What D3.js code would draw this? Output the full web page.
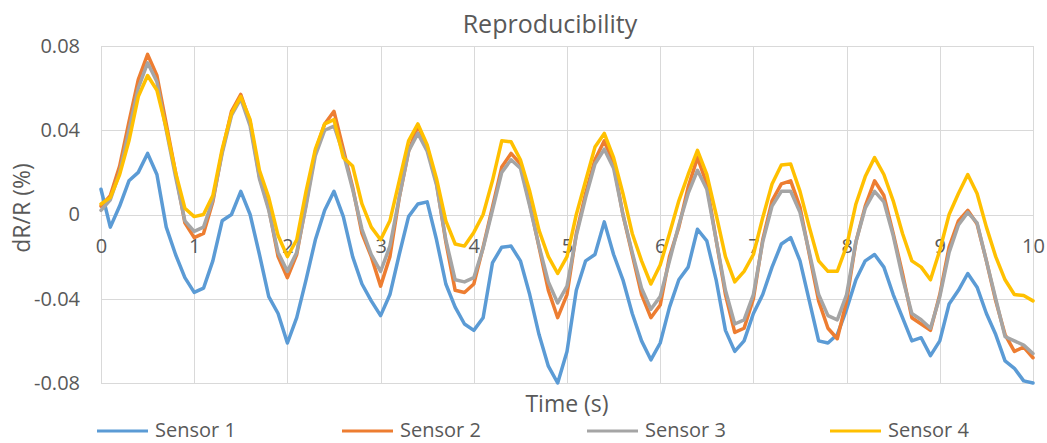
<!DOCTYPE html>
<html>
<head>
<meta charset="utf-8">
<script src="https://cdn.jsdelivr.net/npm/d3@7"></script>
<style>
  body { margin: 0; background: #fff; }
  text { font-family: "Open Sans", sans-serif; fill: #595959; }
</style>
</head>
<body>
<div id="my_dataviz"></div>
<script>
// Time samples (s)
var time = [0,0.1,0.2,0.3,0.4,0.5,0.6,0.7,0.8,0.9,
  1,1.1,1.2,1.3,1.4,1.5,1.6,1.7,1.8,1.9,
  2,2.1,2.2,2.3,2.4,2.5,2.6,2.7,2.8,2.9,
  3,3.1,3.2,3.3,3.4,3.5,3.6,3.7,3.8,3.9,
  4,4.1,4.2,4.3,4.4,4.5,4.6,4.7,4.8,4.9,
  5,5.1,5.2,5.3,5.4,5.5,5.6,5.7,5.8,5.9,
  6,6.1,6.2,6.3,6.4,6.5,6.6,6.7,6.8,6.9,
  7,7.1,7.2,7.3,7.4,7.5,7.6,7.7,7.8,7.9,
  8,8.1,8.2,8.3,8.4,8.5,8.6,8.7,8.8,8.9,
  9,9.1,9.2,9.3,9.4,9.5,9.6,9.7,9.8,9.9,
  10];

// dR/R values
var sensor1 = [0.012,-0.006,0.004,0.016,0.020,0.029,0.019,-0.006,-0.019,-0.030,
  -0.037,-0.035,-0.022,-0.003,0.000,0.011,0.000,-0.019,-0.039,-0.047,
  -0.061,-0.049,-0.031,-0.012,0.002,0.011,-0.001,-0.020,-0.033,-0.041,
  -0.048,-0.038,-0.019,-0.001,0.005,0.006,-0.012,-0.033,-0.044,-0.052,
  -0.055,-0.049,-0.023,-0.0155,-0.015,-0.022,-0.038,-0.057,-0.072,-0.080,
  -0.065,-0.036,-0.022,-0.019,-0.0035,-0.019,-0.031,-0.047,-0.060,-0.069,
  -0.061,-0.044,-0.031,-0.025,-0.007,-0.0125,-0.031,-0.055,-0.065,-0.060,
  -0.047,-0.038,-0.025,-0.014,-0.011,-0.022,-0.041,-0.060,-0.061,-0.057,
  -0.045,-0.031,-0.022,-0.019,-0.025,-0.038,-0.049,-0.060,-0.0585,-0.067,
  -0.060,-0.0425,-0.036,-0.028,-0.0345,-0.047,-0.057,-0.0695,-0.073,-0.079,
  -0.080];

var sensor2 = [0.004,0.009,0.023,0.044,0.064,0.076,0.066,0.043,0.020,-0.004,
  -0.011,-0.009,0.006,0.030,0.049,0.057,0.044,0.018,0.003,-0.020,
  -0.030,-0.019,0.005,0.030,0.043,0.049,0.031,0.013,-0.009,-0.020,
  -0.034,-0.020,0.008,0.030,0.042,0.032,0.015,-0.013,-0.036,-0.037,
  -0.033,-0.0155,0.0035,0.0225,0.029,0.024,0.005,-0.0155,-0.036,-0.049,
  -0.038,-0.009,0.010,0.026,0.035,0.024,0.000,-0.019,-0.038,-0.049,
  -0.043,-0.020,-0.006,0.013,0.027,0.0145,-0.012,-0.038,-0.056,-0.054,
  -0.040,-0.012,0.0065,0.0145,0.016,0.0035,-0.019,-0.041,-0.054,-0.059,
  -0.041,-0.013,0.004,0.016,0.009,-0.009,-0.028,-0.049,-0.052,-0.055,
  -0.038,-0.0155,-0.003,0.002,-0.0045,-0.022,-0.041,-0.057,-0.065,-0.063,
  -0.068];

var sensor3 = [0.002,0.007,0.020,0.040,0.060,0.072,0.063,0.040,0.018,-0.003,
  -0.008,-0.006,0.007,0.029,0.047,0.055,0.042,0.017,0.002,-0.018,
  -0.027,-0.018,0.004,0.028,0.040,0.042,0.029,0.012,-0.007,-0.019,
  -0.027,-0.015,0.008,0.030,0.0385,0.030,0.014,-0.012,-0.031,-0.032,
  -0.030,-0.016,0.002,0.020,0.026,0.022,0.004,-0.015,-0.032,-0.042,
  -0.034,-0.010,0.008,0.024,0.031,0.022,0.000,-0.018,-0.035,-0.045,
  -0.039,-0.022,-0.005,0.010,0.021,0.012,-0.012,-0.036,-0.052,-0.050,
  -0.038,-0.013,0.004,0.011,0.011,0.001,-0.018,-0.038,-0.048,-0.050,
  -0.038,-0.013,0.003,0.011,0.006,-0.010,-0.030,-0.047,-0.050,-0.054,
  -0.039,-0.018,-0.005,0.001,-0.004,-0.022,-0.040,-0.058,-0.060,-0.062,
  -0.066];

var sensor4 = [0.005,0.008,0.019,0.035,0.056,0.066,0.059,0.041,0.020,0.003,
  -0.001,0.000,0.009,0.031,0.048,0.056,0.045,0.021,0.008,-0.010,
  -0.020,-0.012,0.011,0.031,0.043,0.045,0.027,0.023,0.005,-0.006,
  -0.012,-0.003,0.016,0.035,0.043,0.033,0.017,-0.003,-0.014,-0.015,
  -0.0085,0.000,0.016,0.035,0.0345,0.026,0.011,-0.0075,-0.020,-0.028,
  -0.020,0.000,0.016,0.032,0.0385,0.027,0.010,-0.009,-0.022,-0.033,
  -0.024,-0.009,0.0065,0.019,0.0305,0.019,0.000,-0.020,-0.032,-0.027,
  -0.019,-0.0015,0.0145,0.0235,0.024,0.011,-0.006,-0.022,-0.027,-0.027,
  -0.015,0.005,0.018,0.027,0.019,0.0065,-0.009,-0.022,-0.025,-0.031,
  -0.017,0.000,0.010,0.019,0.010,-0.006,-0.020,-0.031,-0.038,-0.0385,
  -0.041];

var seriesNames = ["Sensor 1", "Sensor 2", "Sensor 3", "Sensor 4"];
var seriesColors = ["#5B9BD5", "#ED7D31", "#A5A5A5", "#FFC000"];
var xTicks = [0,1,2,3,4,5,6,7,8,9,10];
var yTicks = [-0.08,-0.04,0,0.04,0.08];
var yTickLabels = ["-0.08","-0.04","0","0.04","0.08"];

// chart geometry
var W = 1047, H = 443;
var margin = {top: 46, right: 14, bottom: 60, left: 101},
    width = 1033 - margin.left,
    height = 383 - margin.top;

var svg = d3.select("#my_dataviz")
  .append("svg")
    .attr("width", W)
    .attr("height", H);

var g = svg.append("g")
    .attr("transform", "translate(" + margin.left + "," + margin.top + ")");

var x = d3.scaleLinear().domain([0, 10]).range([0, width]);
var y = d3.scaleLinear().domain([-0.08, 0.08]).range([height, 0]);

// vertical gridlines
g.append("g")
  .attr("class", "grid")
  .attr("transform", "translate(0," + height + ")")
  .call(d3.axisBottom(x).tickValues(xTicks).tickSize(-height).tickFormat(""))
  .call(function(s){ s.select(".domain").remove(); });

// horizontal gridlines
g.append("g")
  .attr("class", "grid")
  .call(d3.axisLeft(y).tickValues(yTicks).tickSize(-width).tickFormat(""))
  .call(function(s){ s.select(".domain").remove(); });

g.selectAll(".grid line")
  .attr("stroke", "#d9d9d9")
  .attr("stroke-width", 1)
  .attr("shape-rendering", "crispEdges");

// Y axis labels
var yAxis = g.append("g")
  .call(d3.axisLeft(y).tickValues(yTicks).tickSize(0).tickPadding(21)
    .tickFormat(function(d, i){ return yTickLabels[i]; }));
yAxis.select(".domain").remove();
yAxis.selectAll("text")
  .style("font-family", "'Open Sans', sans-serif")
  .style("font-size", "20px")
  .attr("fill", "#595959");

// X axis labels sit under the zero line
var xAxis = g.append("g")
  .attr("transform", "translate(0," + y(0) + ")")
  .call(d3.axisBottom(x).tickValues(xTicks).tickSize(0).tickPadding(24)
    .tickFormat(d3.format("d")));
xAxis.select(".domain").remove();
xAxis.selectAll("text")
  .style("font-family", "'Open Sans', sans-serif")
  .style("font-size", "20px")
  .attr("fill", "#595959");

// Lines
var allSeries = [sensor1, sensor2, sensor3, sensor4];
var line = d3.line()
  .x(function(d, i){ return x(time[i]); })
  .y(function(d){ return y(d); });

g.selectAll("path.series")
  .data(allSeries)
  .enter()
  .append("path")
    .attr("class", "series")
    .attr("d", line)
    .attr("fill", "none")
    .attr("stroke", function(d, i){ return seriesColors[i]; })
    .attr("stroke-width", 3.5)
    .attr("stroke-linejoin", "round")
    .attr("stroke-linecap", "round");

// Title
svg.append("text")
  .attr("x", 550)
  .attr("y", 33)
  .attr("text-anchor", "middle")
  .style("font-size", "25px")
  .text("Reproducibility");

// Axis titles
svg.append("text")
  .attr("x", 567)
  .attr("y", 412)
  .attr("text-anchor", "middle")
  .style("font-size", "23px")
  .text("Time (s)");

svg.append("text")
  .attr("transform", "translate(30,208) rotate(-90)")
  .attr("text-anchor", "middle")
  .style("font-size", "23px")
  .text("dR/R (%)");

// Handmade legend
var legendX = [97, 342, 587, 830];
var legend = svg.selectAll("g.legend")
  .data(seriesNames)
  .enter()
  .append("g")
    .attr("class", "legend")
    .attr("transform", function(d, i){ return "translate(" + legendX[i] + ",431)"; });

legend.append("line")
  .attr("x1", 0).attr("x2", 51)
  .attr("y1", 0).attr("y2", 0)
  .attr("stroke", function(d, i){ return seriesColors[i]; })
  .attr("stroke-width", 3);

legend.append("text")
  .attr("x", 58)
  .attr("y", 6)
  .style("font-size", "20px")
  .text(function(d){ return d; });
</script>
</body>
</html>
